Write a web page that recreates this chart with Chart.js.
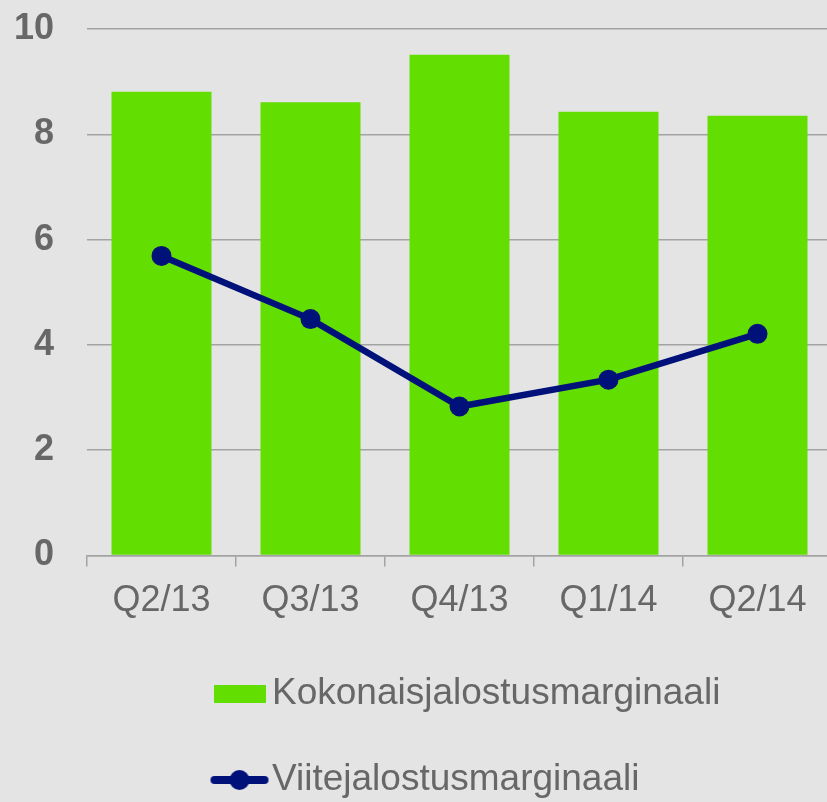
<!DOCTYPE html>
<html>
<head>
<meta charset="utf-8">
<script src="https://cdn.jsdelivr.net/npm/chart.js@4"></script>
<style>
  html, body { margin: 0; padding: 0; background: #e4e4e4; overflow: hidden; width: 827px; height: 802px; }
  #wrap { position: relative; width: 827px; height: 802px; overflow: hidden; }
  #c { position: absolute; left: 0; top: 0; }
</style>
</head>
<body>
<div id="wrap"><canvas id="c" width="835" height="810"></canvas></div>
<script>
const categories = ['Q2/13', 'Q3/13', 'Q4/13', 'Q1/14', 'Q2/14'];
const kokonaisValues = [8.81, 8.61, 9.51, 8.43, 8.35];
const viiteValues = [5.69, 4.49, 2.83, 3.34, 4.21];
const seriesNames = ['Kokonaisjalostusmarginaali', 'Viitejalostusmarginaali'];
const yTicks = [0, 2, 4, 6, 8, 10];

const GREEN = '#62de00';
const NAVY = '#00127a';
const TEXT = '#676767';
const GRID = '#a3a3a3';
const FONT = '"Liberation Sans", Arial, sans-serif';

function makeBoxImg() {
  const c = document.createElement('canvas');
  c.width = 52; c.height = 18;
  const g = c.getContext('2d');
  g.fillStyle = GREEN;
  g.fillRect(0, 0, 52, 18);
  return c;
}
function makeLineImg() {
  const c = document.createElement('canvas');
  c.width = 60; c.height = 22;
  const g = c.getContext('2d');
  g.strokeStyle = NAVY; g.lineWidth = 8; g.lineCap = 'round';
  g.beginPath(); g.moveTo(5, 11); g.lineTo(55, 11); g.stroke();
  g.fillStyle = NAVY;
  g.beginPath(); g.arc(30, 11, 10, 0, Math.PI * 2); g.fill();
  return c;
}
const legendImgs = [makeBoxImg(), makeLineImg()];

const legendShift = {
  id: 'legendShift',
  afterLayout(chart) {
    const lg = chart.legend;
    if (lg) { lg.left = 176.5; }
  }
};

new Chart(document.getElementById('c'), {
  data: {
    labels: categories,
    datasets: [
      {
        type: 'bar',
        label: seriesNames[0],
        data: kokonaisValues,
        backgroundColor: GREEN,
        borderWidth: 0,
        barPercentage: 0.671,
        categoryPercentage: 1,
        order: 1
      },
      {
        type: 'line',
        label: seriesNames[1],
        data: viiteValues,
        borderColor: NAVY,
        backgroundColor: NAVY,
        borderWidth: 6.5,
        pointRadius: 10,
        pointBorderWidth: 0,
        pointBackgroundColor: NAVY,
        tension: 0,
        order: 0
      }
    ]
  },
  options: {
    responsive: false,
    animation: false,
    layout: { autoPadding: false, padding: { top: 29, right: 3, bottom: 1.5, left: 0 } },
    plugins: {
      tooltip: { enabled: false },
      legend: {
        position: 'bottom',
        align: 'start',
        labels: {
          usePointStyle: true,
          pointStyleWidth: 28,
          padding: 49,
          color: TEXT,
          font: { family: FONT, size: 37 },
          sort: (a, b) => a.datasetIndex - b.datasetIndex,
          generateLabels(chart) {
            const items = Chart.defaults.plugins.legend.labels.generateLabels(chart);
            items.forEach(it => { it.pointStyle = legendImgs[it.datasetIndex]; it.fontColor = TEXT; });
            return items;
          }
        }
      }
    },
    scales: {
      x: {
        offset: true,
        grid: { display: true, drawOnChartArea: false, drawTicks: true, tickLength: 11, color: GRID, lineWidth: 1.5, offset: true },
        border: { display: true, color: GRID, width: 1.5 },
        ticks: { color: TEXT, font: { family: FONT, size: 36 }, padding: 13, maxRotation: 0, autoSkip: false },
        afterFit(scale) { scale.height = 71; scale.paddingLeft = 0; scale.paddingRight = 0; }
      },
      y: {
        min: 0,
        max: 10,
        afterBuildTicks(scale) { scale.ticks = yTicks.map(v => ({ value: v })); },
        grid: { color: GRID, lineWidth: 1.5, drawTicks: false },
        border: { display: false },
        ticks: { color: TEXT, font: { family: FONT, size: 36, weight: 'bold' }, padding: 33 },
        afterFit(scale) { scale.width = 87; scale.paddingTop = 0; scale.paddingBottom = 0; }
      }
    }
  },
  plugins: [legendShift]
});
</script>
</body>
</html>
